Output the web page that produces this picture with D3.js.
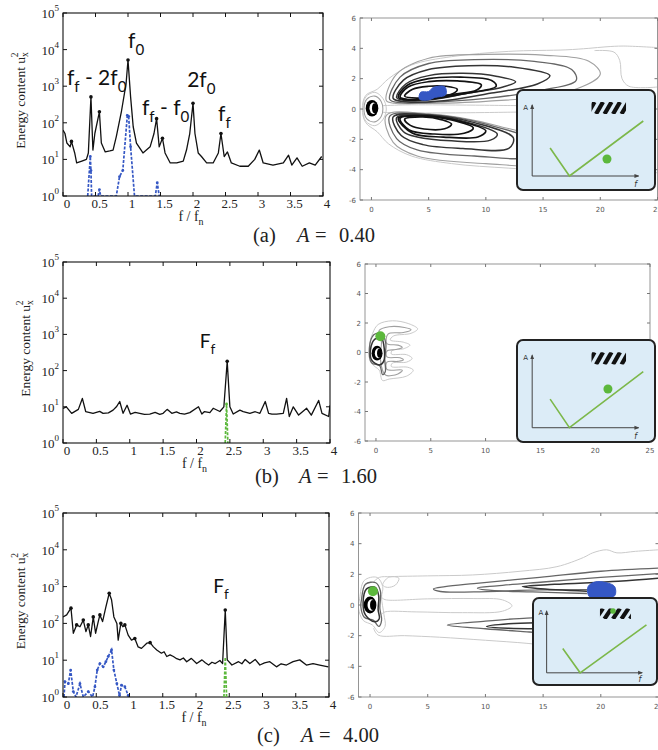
<!DOCTYPE html>
<html><head><meta charset="utf-8">
<script src="https://cdn.jsdelivr.net/npm/d3@7/dist/d3.min.js"></script>
<style>html,body{margin:0;padding:0;background:#fff}svg{display:block}</style>
</head><body>
<svg id="fig" width="658" height="750"></svg>
<script>
// ================= DATA =================
const fTicks = [0,0.5,1,1.5,2,2.5,3,3.5,4];
const fTickLabels = ["0","0.5","1","1.5","2","2.5","3","3.5","4"];
const energyExps = [0,1,2,3,4,5];
const wakeXTicks = [0,5,10,15,20,25];
const wakeYTicks = [6,4,2,0,-2,-4,-6];
const captionTags = ["(a)","(b)","(c)"];
const amplitudes = ["0.40","1.60","4.00"];

// spectra: [f/fn, energy]
const spectrumA = [[0,63],[0.03,51],[0.06,28],[0.11,22],[0.13,31],[0.18,15],[0.21,8],[0.29,9],[0.36,10],[0.39,15],[0.43,510],[0.46,18],[0.49,51],[0.56,200],[0.59,28],[0.65,16],[0.72,17],[0.77,18],[0.82,42],[0.9,210],[0.97,1150],[1.0,5200],[1.04,510],[1.08,78],[1.13,28],[1.23,15],[1.34,22],[1.4,51],[1.44,130],[1.48,22],[1.53,38],[1.57,15],[1.65,8],[1.75,8],[1.85,9],[1.9,18],[1.95,51],[2.0,340],[2.03,51],[2.08,15],[2.13,12],[2.21,8],[2.31,8],[2.39,15],[2.43,51],[2.48,12],[2.53,16],[2.59,8],[2.72,6.5],[2.85,6.5],[2.95,10],[3.02,18],[3.08,8],[3.23,7],[3.39,8],[3.47,13],[3.52,7],[3.6,11],[3.68,6.5],[3.79,8],[3.88,7],[3.98,12]];
const cylinderSpectrumA = [[0.38,1],[0.42,12],[0.43,5],[0.44,1],[0.54,1],[0.56,1.5],[0.58,1],[0.82,1],[0.87,3.4],[0.92,5],[0.99,160],[1.01,150],[1.04,22],[1.1,1],[1.42,1],[1.45,2.3],[1.48,1]];

const spectrumB = [[0,9],[0.05,10],[0.13,6.6],[0.23,8.5],[0.29,17],[0.34,7.4],[0.45,6.6],[0.55,7.5],[0.6,6.6],[0.68,6.8],[0.75,8.1],[0.8,10],[0.85,14],[0.9,6.6],[0.96,11],[1.01,6.3],[1.08,7],[1.15,6.6],[1.22,6.2],[1.3,6.3],[1.38,7],[1.45,6.2],[1.5,6.6],[1.56,8.5],[1.63,6.6],[1.7,7.2],[1.75,6.6],[1.82,6.3],[1.9,6.9],[2.03,10],[2.08,6.3],[2.12,7.4],[2.2,6.9],[2.25,9.1],[2.35,7.4],[2.41,10],[2.46,180],[2.5,10],[2.55,6.3],[2.65,8.1],[2.7,7.4],[2.8,6.6],[2.88,7.3],[2.95,6.6],[3.03,14],[3.08,6.6],[3.13,6.3],[3.2,6.3],[3.3,6.6],[3.35,17],[3.39,5.4],[3.45,10],[3.53,5.9],[3.65,9.1],[3.72,5.9],[3.83,15],[3.88,6.6],[3.98,5.4],[4.0,11]];
const flagSpectrumB = [[2.43,1],[2.45,12],[2.47,1]];

const spectrumC = [[0,150],[0.055,170],[0.1,230],[0.12,260],[0.155,54],[0.205,91],[0.255,81],[0.305,123],[0.345,60],[0.38,91],[0.415,44],[0.455,150],[0.49,54],[0.53,112],[0.555,170],[0.595,112],[0.645,280],[0.695,660],[0.73,440],[0.765,150],[0.81,100],[0.83,35],[0.87,100],[0.9,81],[0.93,91],[0.98,48],[1.03,35],[1.08,39],[1.13,23],[1.18,21],[1.26,29],[1.31,30],[1.36,23],[1.41,19],[1.48,15.5],[1.52,17],[1.56,12.6],[1.61,14],[1.66,12.6],[1.71,11],[1.76,10.2],[1.81,11.5],[1.86,9.1],[1.93,11.2],[2.01,8.1],[2.09,10.2],[2.14,8.5],[2.19,7.4],[2.24,8.8],[2.29,8.1],[2.36,9.8],[2.4,8.1],[2.44,230],[2.47,10.2],[2.54,7.4],[2.64,9.1],[2.69,8],[2.74,10.5],[2.81,8.1],[2.89,10.5],[2.96,7.4],[3.03,8.5],[3.11,9.1],[3.21,6.6],[3.28,8],[3.36,7.4],[3.46,9.1],[3.56,10.2],[3.66,7.4],[3.76,8.1],[3.86,7.4],[3.99,6.6]];
const cylinderSpectrumC = [[0.015,1],[0.03,2.6],[0.08,2.3],[0.115,5.4],[0.155,1.4],[0.195,1],[0.255,2.3],[0.305,1],[0.38,1.4],[0.445,1],[0.48,1.9],[0.515,5.4],[0.555,8.1],[0.605,6.6],[0.645,9.1],[0.68,12.6],[0.73,19],[0.765,5.4],[0.81,2.3],[0.85,1.1],[0.88,2.1],[0.93,1.9],[0.98,1.1],[1.0,1]];
const flagSpectrumC = [[2.42,1],[2.44,12],[2.46,1]];

// peak annotations: text parts ([text, isSubscript]) anchored at (f, energy)
const peakLabelsA = [
  {parts:[["f",0],["f",1],[" - 2f",0],["0",1]], f:0.06, e:1080},
  {parts:[["f",0],["0",1]], f:1.0, e:11000},
  {parts:[["f",0],["f",1],[" - f",0],["0",1]], f:1.215, e:163},
  {parts:[["2f",0],["0",1]], f:1.91, e:950},
  {parts:[["f",0],["f",1]], f:2.385, e:112}
];
const peakLabelsB = [{parts:[["F",0],["f",1]], f:2.05, e:420}];
const peakLabelsC = [{parts:[["F",0],["f",1]], f:2.26, e:670}];

// wake contours (x/D, y/D), lvl 0 = strongest
const wakeA = [
  {lvl:4, closed:false, pts:[[25,4.05],[22,4.15],[20.5,4.1],[19,4.0],[17,3.9],[12,3.8],[7,3.45],[3.5,2.9],[1.5,2.0],[0.5,1.3],[-0.5,0.9],[-0.8,0],[-0.5,-0.9],[0.5,-1.5],[1.5,-2.3],[3.5,-3.1],[7,-3.6],[12,-3.9],[17,-4.1],[25,-4.2]]},
  {lvl:4, closed:false, pts:[[25,1.45],[22.5,1.5],[21.9,2.0],[21.7,3.2],[21.2,3.75],[19.5,3.85]]},
  {lvl:4, closed:false, pts:[[1.0,0.22],[3,0.27],[8,0.26],[13,0.22]]},
  {lvl:4, closed:false, pts:[[1.0,-0.22],[3,-0.26],[8,-0.25],[13,-0.2]]},
  {lvl:4, closed:true, pts:[[-0.75,0],[-0.5,0.8],[0.3,1.1],[1.0,0.7],[1.3,0],[1.0,-0.7],[0.3,-1.1],[-0.5,-0.8]]},
  {lvl:3, closed:true, pts:[[-0.65,0],[-0.4,0.65],[0.3,0.85],[0.85,0.5],[1.0,0],[0.85,-0.5],[0.3,-0.85],[-0.4,-0.65]]},
  {lvl:3, closed:true, pts:[[1.3,0.56],[2.2,2.3],[5,3.35],[10,3.6],[15,3.55],[19,3.15],[20,2.3],[17,1.1],[10,0.5],[4,0.36],[2,0.38]]},
  {lvl:2, closed:true, pts:[[1.6,0.62],[2.5,2.1],[5,3.0],[9,3.25],[14,3.15],[17.5,2.6],[17.9,1.9],[15,1.25],[10,0.7],[5,0.44],[2.5,0.42]]},
  {lvl:1, closed:true, pts:[[1.9,0.7],[2.8,1.9],[5,2.6],[8.5,2.85],[12.5,2.75],[15.6,2.2],[14.5,1.65],[10.5,1.05],[6,0.52],[3,0.48]]},
  {lvl:1, closed:true, pts:[[2.2,0.75],[3,1.65],[5,2.2],[8,2.35],[11,2.15],[12.6,1.8],[11.5,1.45],[8.5,1.05],[5,0.6],[3,0.55]]},
  {lvl:0, closed:true, pts:[[2.35,0.78],[3.1,1.55],[5,2.0],[7.8,2.1],[10.5,1.88],[10.9,1.5],[8,1.0],[4.8,0.63],[3.05,0.6]]},
  {lvl:0, closed:true, pts:[[2.5,0.8],[3.2,1.45],[5,1.8],[7.5,1.85],[9.6,1.6],[9.2,1.25],[7,0.95],[4.5,0.66],[3.1,0.64]]},
  {lvl:0, closed:true, pts:[[2.9,0.85],[3.6,1.3],[5,1.5],[6.5,1.5],[7.5,1.3],[7.1,1.0],[5.5,0.82],[4,0.72]]},
  {lvl:3, closed:true, pts:[[1.3,-0.42],[5,-0.32],[11,-1.1],[17,-2.7],[16,-3.6],[10,-3.6],[4,-3.1],[1.9,-2.2]]},
  {lvl:2, closed:true, pts:[[1.6,-0.47],[5,-0.36],[10,-1.0],[14.5,-2.3],[14,-3.1],[9,-3.1],[4,-2.7],[2.2,-1.95]]},
  {lvl:1, closed:true, pts:[[1.9,-0.52],[5,-0.39],[9,-0.9],[12.4,-1.9],[12,-2.6],[8,-2.6],[4.5,-2.35],[2.6,-1.75]]},
  {lvl:1, closed:true, pts:[[2.2,-0.57],[5,-0.42],[8,-0.8],[11,-1.65],[10.4,-2.05],[7,-2.1],[4,-1.85],[2.8,-1.5]]},
  {lvl:0, closed:true, pts:[[2.35,-0.6],[4.8,-0.45],[7.5,-0.76],[10,-1.45],[9.3,-1.85],[6.3,-1.85],[3.6,-1.6]]},
  {lvl:0, closed:true, pts:[[2.5,-0.62],[4.5,-0.47],[7,-0.72],[8.9,-1.25],[8.1,-1.6],[5.5,-1.65],[3.3,-1.38]]},
  {lvl:0, closed:true, pts:[[2.9,-0.68],[4.5,-0.52],[6.2,-0.72],[7.0,-1.0],[6.4,-1.3],[4.6,-1.32],[3.4,-1.08]]}
];
const wakeB = [
  {lvl:4, closed:true, pts:[[0.2,1.9],[1.5,2.15],[3.0,1.95],[3.8,1.6],[3.2,1.3],[1.6,1.12],[1.3,0.85],[2.5,0.7],[3.1,0.5],[2.5,0.25],[1.5,0.15],[1.4,-0.1],[2.8,-0.15],[3.3,-0.4],[2.8,-0.65],[1.5,-0.72],[1.4,-0.95],[2.9,-1.0],[3.4,-1.2],[2.8,-1.6],[1.2,-1.8],[0.6,-1.9],[0.3,-1.2],[-0.3,-0.8],[-0.6,0.4],[-0.3,1.3]]},
  {lvl:3, closed:true, pts:[[0.3,1.5],[1.2,1.75],[2.6,1.7],[3.2,1.55],[2.5,1.35],[1.1,1.25],[1.0,0.6],[2.0,0.5],[2.4,0.35],[1.8,0.2],[1.0,0.1],[1.0,-0.3],[2.2,-0.35],[2.5,-0.5],[2.0,-0.6],[1.0,-0.65],[1.0,-1.15],[2.4,-1.2],[2.0,-1.45],[0.9,-1.55],[0.6,-1.2],[0.4,-0.4],[0.5,0.8]]},
  {lvl:2, closed:true, pts:[[-0.6,0.3],[-0.2,1.2],[0.5,1.3],[0.9,0.6],[0.8,-0.4],[0.85,-1.3],[0.6,-1.5],[0.35,-0.9],[-0.4,-0.7]]},
  {lvl:1, closed:true, pts:[[-0.5,0.2],[-0.1,0.9],[0.5,0.95],[0.75,0.3],[0.7,-0.6],[0.3,-0.85],[-0.4,-0.5]]}
];
const wakeC = [
  {lvl:4, closed:false, pts:[[0.3,1.5],[0.8,1.8],[1.8,1.85],[5,1.9],[8.9,1.96],[13,2.2],[16.2,2.5],[18.5,3.1],[19.3,3.4],[20.5,3.6],[21.4,3.4],[23,3.5],[25,3.6]]},
  {lvl:4, closed:false, pts:[[0.3,-1.5],[0.7,-1.96],[3,-2.0],[6,-2.1],[10,-2.3],[13.6,-2.5],[16,-2.7]]},
  {lvl:4, closed:false, pts:[[1.0,0.5],[1.3,0.35],[5,0.4],[9,0.42],[11.5,0.33],[12.3,-0.05],[11.5,-0.4],[8,-0.5],[4,-0.45],[1.3,-0.45],[1.0,-0.6]]},
  {lvl:2, closed:false, pts:[[25,2.4],[20,2.2],[14.7,1.8],[9,1.4],[6.5,1.2],[5.5,1.05],[6.1,0.88],[9,0.85],[14.7,0.98],[18.8,1.0]]},
  {lvl:2, closed:false, pts:[[25,2.05],[20,1.8],[15,1.5],[11,1.25],[9.3,1.1],[10,0.98],[14.1,0.85],[18.8,0.75]]},
  {lvl:1, closed:false, pts:[[25,1.75],[21.5,1.55],[16,1.35],[13.2,1.2],[14.5,1.08],[18.8,0.9]]},
  {lvl:2, closed:false, pts:[[14.5,-0.85],[13.6,-0.85],[10,-1.05],[6.7,-1.3],[10,-1.55],[13.6,-1.75],[14.5,-1.8]]},
  {lvl:1, closed:false, pts:[[14.5,-1.15],[12,-1.22],[10.1,-1.4],[12,-1.52],[14.5,-1.55]]},
  {lvl:4, closed:true, pts:[[1.1,1.3],[1.6,1.8],[2.5,1.75],[2.2,1.3],[1.5,1.15]]},
  {lvl:4, closed:true, pts:[[-0.9,0.4],[-0.5,1.6],[0.6,1.8],[1.1,1.2],[1.0,0.5],[1.2,-0.6],[1.3,-1.4],[0.8,-1.8],[0.2,-1.3],[-0.6,-1.0],[-1.0,-0.2]]},
  {lvl:2, closed:true, pts:[[-0.75,0.3],[-0.4,1.35],[0.5,1.45],[0.9,0.9],[0.85,-0.2],[1.0,-1.0],[0.75,-1.4],[0.3,-1.0],[-0.5,-0.8],[-0.8,-0.1]]},
  {lvl:1, closed:true, pts:[[-0.6,0.2],[-0.3,1.05],[0.45,1.15],[0.75,0.6],[0.7,-0.3],[0.8,-0.9],[0.4,-1.1],[-0.4,-0.65]]}
];
// cylinder centre and radius (x/D, y/D)
const cylinders = [[0.05,0.05,0.55],[0.1,-0.05,0.5],[0.0,0.0,0.55]];
// tracked vortex blobs (blue) and flag tip (green)
const blueBlobA = [[4.2,0.65],[4.3,1.1],[5.0,1.15],[5.4,1.42],[6.4,1.47],[6.5,0.95],[5.5,0.75],[5,0.6]];
const blueBlobC = [[19.0,0.55],[18.9,1.2],[19.5,1.5],[20.5,1.45],[21.2,1.2],[21.2,0.6],[20,0.45]];
const flagTipB = [0.4,1.1];
const flagTipC = [0.25,0.9];
// inset schematic (normalised units)
const insetAxes = [[0.11,0.85],[0.11,0.14],[0.88,0.14]];
const insetV = [[0.24,0.42],[0.38,0.14],[0.915,0.69]];
const insetDots = [[0.652,0.31],[0.659,0.52],[0.645,0.85]];

// ================= LAYOUT / STYLE =================
const SERIF = "'Liberation Serif','DejaVu Serif',serif";
const SANS = "Lato,'Open Sans',sans-serif";
const BLUE = "#3557c4", GREEN = "#5cb83c";
const levelStyle = [
  {c:"#121212", w:1.7},{c:"#343434", w:1.5},{c:"#666", w:1.3},{c:"#a0a0a0", w:1.1},{c:"#cacaca", w:1.0}
];
const layout = [
  {spec:{x0:63,x1:323,y0:13,y1:196}, wake:{x0:360,x1:657.5,y0:18,y1:200}, inset:{x:517,y:90,w:138,h:100}, capY:242, capX:253, ylabX:25},
  {spec:{x0:63,x1:330,y0:262,y1:443}, wake:{x0:365,x1:650,y0:264,y1:441}, inset:{x:517,y:340,w:138,h:102}, capY:483, capX:255, ylabX:30},
  {spec:{x0:63,x1:329,y0:513,y1:697}, wake:{x0:358.5,x1:658.5,y0:513,y1:697}, inset:{x:533,y:598,w:124,h:87}, capY:742, capX:257, ylabX:25}
];

const svg = d3.select("#fig");
const defs = svg.append("defs");
defs.append("marker").attr("id","arr").attr("viewBox","0 0 10 10").attr("refX",8).attr("refY",5)
  .attr("markerWidth",5).attr("markerHeight",5).attr("orient","auto")
  .append("path").attr("d","M0,1 L10,5 L0,9 z").attr("fill","#444");

function annot(g, x, y, parts, size){
  const t = g.append("text").attr("x",x).attr("y",y).attr("font-family",SANS).attr("font-size",size).attr("fill","#111");
  let sub = false;
  parts.forEach(([s,isSub])=>{
    let dy = 0;
    if(isSub && !sub) dy = size*0.32;
    if(!isSub && sub) dy = -size*0.32;
    t.append("tspan").attr("dy",dy).attr("font-size", isSub ? size*0.72 : size).text(s);
    sub = !!isSub;
  });
}

function drawSpectrum(i, black, dashed, dashColor, labels, labelSize){
  const L = layout[i].spec;
  const g = svg.append("g");
  const x = d3.scaleLinear().domain([0,4]).range([L.x0,L.x1]);
  const y = d3.scaleLog().domain([1,1e5]).range([L.y1,L.y0]);
  const cid = "clipS"+i;
  defs.append("clipPath").attr("id",cid).append("rect").attr("x",L.x0).attr("y",L.y0).attr("width",L.x1-L.x0).attr("height",L.y1-L.y0);
  const plot = g.append("g").attr("clip-path",`url(#${cid})`);
  const line = d3.line().x(d=>x(d[0])).y(d=>y(Math.max(d[1],1)));
  plot.append("path").datum(dashed).attr("d",line).attr("fill","none").attr("stroke",dashColor)
    .attr("stroke-width",1.7).attr("stroke-dasharray","3,1.5");
  plot.selectAll(null).data(dashed.filter(d=>d[1]>1.05)).enter().append("circle")
    .attr("cx",d=>x(d[0])).attr("cy",d=>y(d[1])).attr("r",1.4).attr("fill",dashColor);
  plot.append("path").datum(black).attr("d",line).attr("fill","none").attr("stroke","#111").attr("stroke-width",1.3).attr("stroke-linejoin","round");
  const peaks = black.filter((d,k)=>k>0 && k<black.length-1 && d[1]>black[k-1][1] && d[1]>black[k+1][1] && d[1]>25);
  plot.selectAll(null).data(peaks).enter().append("circle")
    .attr("cx",d=>x(d[0])).attr("cy",d=>y(d[1])).attr("r",1.8).attr("fill","#111");
  // frame
  g.append("rect").attr("x",L.x0).attr("y",L.y0).attr("width",L.x1-L.x0).attr("height",L.y1-L.y0)
    .attr("fill","none").attr("stroke","#111").attr("stroke-width",1.1);
  fTicks.forEach((t,k)=>{
    g.append("line").attr("x1",x(t)).attr("x2",x(t)).attr("y1",L.y1).attr("y2",L.y1-4).attr("stroke","#111");
    g.append("line").attr("x1",x(t)).attr("x2",x(t)).attr("y1",L.y0).attr("y2",L.y0+4).attr("stroke","#111");
    g.append("text").attr("x",x(t)+4).attr("y",L.y1+12).attr("text-anchor","middle")
      .attr("font-family",SERIF).attr("font-size",13).attr("fill","#222").text(fTickLabels[k]);
  });
  energyExps.forEach(e=>{
    const yy = y(Math.pow(10,e));
    g.append("line").attr("x1",L.x0).attr("x2",L.x0+4).attr("y1",yy).attr("y2",yy).attr("stroke","#111");
    g.append("line").attr("x1",L.x1).attr("x2",L.x1-4).attr("y1",yy).attr("y2",yy).attr("stroke","#111");
    const t = g.append("text").attr("x",L.x0-4).attr("y",yy+5).attr("text-anchor","end")
      .attr("font-family",SERIF).attr("font-size",13).attr("fill","#222");
    t.append("tspan").text("10");
    t.append("tspan").attr("dy",-7).attr("font-size",9).text(String(e));
  });
  // y label
  const cy = (L.y0+L.y1)/2 - 4;
  const yl = g.append("text").attr("transform",`translate(${layout[i].ylabX},${cy}) rotate(-90)`)
    .attr("text-anchor","middle").attr("font-family",SERIF).attr("font-size",13.5).attr("fill","#222");
  yl.append("tspan").text("Energy content u");
  yl.append("tspan").attr("font-size",9.5).attr("dy",3).text("x");
  yl.append("tspan").attr("font-size",9.5).attr("dx",-5).attr("dy",-10).text("2");
  // x label
  const xl = g.append("text").attr("x",(L.x0+L.x1)/2-2).attr("y",L.y1+25).attr("text-anchor","middle")
    .attr("font-family",SERIF).attr("font-size",14).attr("fill","#222");
  xl.append("tspan").text("f / f");
  xl.append("tspan").attr("font-size",10).attr("dy",4).text("n");
  // peak labels
  labels.forEach(l=>annot(g, x(l.f), y(l.e), l.parts, labelSize));
  return {x, y};
}

function drawWake(i, contours, blob, tip){
  const L = layout[i].wake;
  const g = svg.append("g");
  const x = d3.scaleLinear().domain([-1,25]).range([L.x0,L.x1]);
  const y = d3.scaleLinear().domain([-6,6]).range([L.y1,L.y0]);
  const cid = "clipW"+i;
  defs.append("clipPath").attr("id",cid).append("rect").attr("x",L.x0).attr("y",L.y0).attr("width",L.x1-L.x0).attr("height",L.y1-L.y0);
  const plot = g.append("g").attr("clip-path",`url(#${cid})`);
  contours.slice().sort((a,b)=>b.lvl-a.lvl).forEach(c=>{
    const ln = d3.line().x(d=>x(d[0])).y(d=>y(d[1]))
      .curve(c.closed ? d3.curveCatmullRomClosed.alpha(0.5) : d3.curveCatmullRom.alpha(0.5));
    plot.append("path").attr("d",ln(c.pts)).attr("fill","none")
      .attr("stroke",levelStyle[c.lvl].c).attr("stroke-width",levelStyle[c.lvl].w);
  });
  // cylinder
  const [ccx,ccy,cr] = cylinders[i];
  const rx = x(cr)-x(0), ry = y(0)-y(cr);
  plot.append("ellipse").attr("cx",x(ccx)).attr("cy",y(ccy)).attr("rx",rx).attr("ry",ry).attr("fill","#000");
  plot.append("ellipse").attr("cx",x(ccx)+rx*0.2).attr("cy",y(ccy)).attr("rx",rx*0.6).attr("ry",ry*0.68).attr("fill","#fff");
  plot.append("ellipse").attr("cx",x(ccx)+rx*0.45).attr("cy",y(ccy)).attr("rx",rx*0.45).attr("ry",ry*0.6).attr("fill","#000");
  if(blob){
    plot.append("path").attr("d",d3.line().x(d=>x(d[0])).y(d=>y(d[1])).curve(d3.curveCatmullRomClosed)(blob))
      .attr("fill",BLUE).attr("stroke",BLUE).attr("stroke-width",1);
  }
  if(tip){
    plot.append("circle").attr("cx",x(tip[0])).attr("cy",y(tip[1])).attr("r",5).attr("fill",GREEN);
  }
  // frame & ticks
  g.append("rect").attr("x",L.x0).attr("y",L.y0).attr("width",L.x1-L.x0).attr("height",L.y1-L.y0)
    .attr("fill","none").attr("stroke","#8a8a8a").attr("stroke-width",0.9);
  wakeXTicks.forEach(t=>{
    g.append("line").attr("x1",x(t)).attr("x2",x(t)).attr("y1",L.y1).attr("y2",L.y1-3).attr("stroke","#777");
    g.append("line").attr("x1",x(t)).attr("x2",x(t)).attr("y1",L.y0).attr("y2",L.y0+3).attr("stroke","#777");
    g.append("text").attr("x",x(t)).attr("y",L.y1+12).attr("text-anchor","middle")
      .attr("font-family","'DejaVu Sans',sans-serif").attr("font-size",7).attr("fill","#555").text(String(t));
  });
  wakeYTicks.forEach(t=>{
    g.append("line").attr("x1",L.x0).attr("x2",L.x0+3).attr("y1",y(t)).attr("y2",y(t)).attr("stroke","#777");
    g.append("line").attr("x1",L.x1).attr("x2",L.x1-3).attr("y1",y(t)).attr("y2",y(t)).attr("stroke","#777");
    g.append("text").attr("x",L.x0-4).attr("y",y(t)+2.5).attr("text-anchor","end")
      .attr("font-family","'DejaVu Sans',sans-serif").attr("font-size",7).attr("fill","#555").text(String(t));
  });
}

function drawInset(i){
  const B = layout[i].inset;
  const g = svg.append("g");
  const u = d3.scaleLinear().domain([0,1]).range([B.x,B.x+B.w]);
  const v = d3.scaleLinear().domain([0,1]).range([B.y+B.h,B.y]);
  g.append("rect").attr("x",B.x).attr("y",B.y).attr("width",B.w).attr("height",B.h).attr("rx",6)
    .attr("fill","#dcecf7").attr("stroke","#222").attr("stroke-width",2);
  const o = insetAxes[1];
  g.append("line").attr("x1",u(o[0])).attr("y1",v(o[1])).attr("x2",u(insetAxes[0][0])).attr("y2",v(insetAxes[0][1]))
    .attr("stroke","#444").attr("stroke-width",1).attr("marker-end","url(#arr)");
  g.append("line").attr("x1",u(o[0])).attr("y1",v(o[1])).attr("x2",u(insetAxes[2][0])).attr("y2",v(insetAxes[2][1]))
    .attr("stroke","#444").attr("stroke-width",1).attr("marker-end","url(#arr)");
  g.append("text").attr("x",u(0.045)).attr("y",v(0.8)).attr("font-family","'DejaVu Sans',sans-serif").attr("font-size",7).attr("fill","#333").text("A");
  g.append("text").attr("x",u(0.85)).attr("y",v(0.03)).attr("font-family","'DejaVu Sans',sans-serif").attr("font-size",8).attr("font-style","italic").attr("fill","#333").text("f");
  // hatched flag
  const hid = "hatch"+i;
  const hx0 = u(0.54), hx1 = u(0.79), hy0 = v(0.88), hy1 = v(0.76);
  defs.append("clipPath").attr("id",hid).append("rect").attr("x",hx0).attr("y",hy0).attr("width",hx1-hx0).attr("height",hy1-hy0);
  const hg = g.append("g").attr("clip-path",`url(#${hid})`);
  for(let k=0;k<6;k++){
    const bx = hx0 - 4 + k*8.5;
    hg.append("line").attr("x1",bx).attr("y1",hy1).attr("x2",bx+7).attr("y2",hy0).attr("stroke","#111").attr("stroke-width",4.2);
  }
  g.append("path").attr("d",d3.line().x(d=>u(d[0])).y(d=>v(d[1]))(insetV))
    .attr("fill","none").attr("stroke","#7cb84a").attr("stroke-width",1.6);
  const d = insetDots[i];
  g.append("circle").attr("cx",u(d[0])).attr("cy",v(d[1])).attr("r", i===2 ? 2.8 : 4.5).attr("fill",GREEN);
}

function caption(i){
  const c = layout[i];
  const g = svg.append("g").attr("font-family",SERIF).attr("font-size",20.5).attr("fill","#222");
  g.append("text").attr("x",c.capX).attr("y",c.capY).text(captionTags[i]);
  g.append("text").attr("x",c.capX+44).attr("y",c.capY).attr("font-style","italic").text("A");
  g.append("text").attr("x",c.capX+62).attr("y",c.capY).text("=");
  g.append("text").attr("x",c.capX+86).attr("y",c.capY).text(amplitudes[i]);
}

drawSpectrum(0, spectrumA, cylinderSpectrumA, BLUE, peakLabelsA, 21);
drawSpectrum(1, spectrumB, flagSpectrumB, GREEN, peakLabelsB, 19);
const sc = drawSpectrum(2, spectrumC, cylinderSpectrumC, BLUE, peakLabelsC, 19);
// flag spectrum (green) also shown in (c)
svg.append("path").datum(flagSpectrumC).attr("d",d3.line().x(d=>sc.x(d[0])).y(d=>sc.y(d[1])))
  .attr("fill","none").attr("stroke",GREEN).attr("stroke-width",1.7).attr("stroke-dasharray","3,1.5");
drawWake(0, wakeA, blueBlobA, null);
drawWake(1, wakeB, null, flagTipB);
drawWake(2, wakeC, blueBlobC, flagTipC);
drawInset(0); drawInset(1); drawInset(2);
caption(0); caption(1); caption(2);
</script>
</body></html>
